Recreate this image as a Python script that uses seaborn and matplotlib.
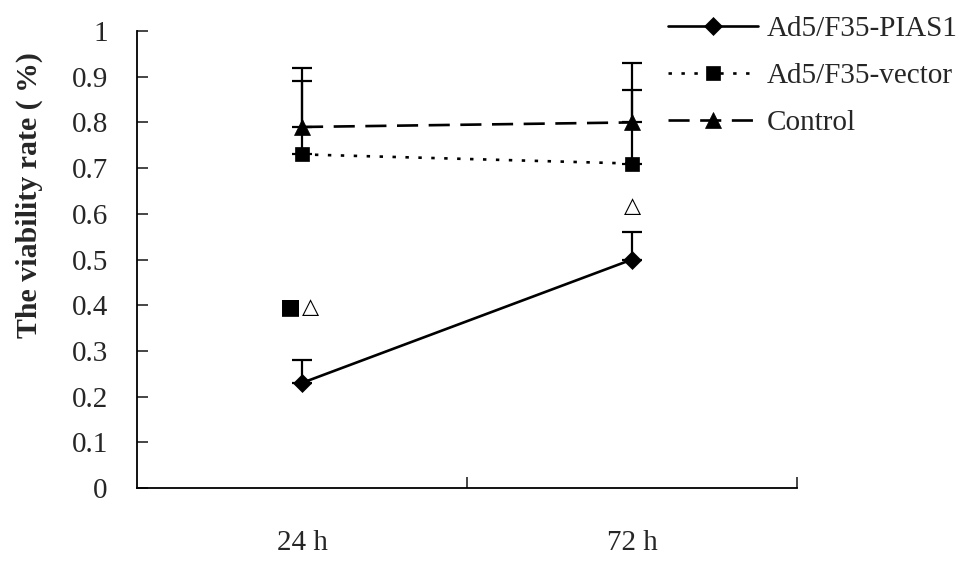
import numpy as np
import pandas as pd
import seaborn as sns
import matplotlib as mpl
from matplotlib import pyplot as plt

# values
times = ['24 h', '72 h']
groups = ['Ad5/F35-PIAS1', 'Ad5/F35-vector', 'Control']
pias1 = [0.23, 0.50]
vector = [0.73, 0.71]
control = [0.79, 0.80]
pias1_err = [0.05, 0.06]
vector_err = [0.16, 0.16]
control_err = [0.13, 0.13]
yticks = [0, 0.1, 0.2, 0.3, 0.4, 0.5, 0.6, 0.7, 0.8, 0.9, 1]
ytick_labels = ['0', '0.1', '0.2', '0.3', '0.4', '0.5', '0.6', '0.7', '0.8', '0.9', '1']
# significance marks: (x index, y, text)
sig_marks = [(-0.035, 0.396, '■'), (0.027, 0.396, '△'), (1.0, 0.617, '△')]

sns.set_style('white')
plt.rcParams['font.family'] = ['Liberation Serif', 'DejaVu Sans']

df = pd.DataFrame({
    'time': times * 3,
    'group': [g for g in groups for _ in times],
    'rate': pias1 + vector + control,
})

fig = plt.figure(figsize=(9.69, 5.66), dpi=100)
ax = fig.add_axes([0.1414, 0.1378, 0.6811, 0.8074])

ax = sns.lineplot(data=df, x='time', y='rate', hue='group', style='group',
                  hue_order=groups, style_order=groups,
                  palette=['black'] * 3,
                  markers={'Ad5/F35-PIAS1': 'D', 'Ad5/F35-vector': 's', 'Control': '^'},
                  dashes={'Ad5/F35-PIAS1': '', 'Ad5/F35-vector': (1.3, 3.6), 'Control': (8, 4)},
                  markeredgecolor='black', markeredgewidth=0.5,
                  linewidth=1.9, ax=ax)

sizes = {'D': 9, 's': 10, '^': 12}
for line in ax.lines:
    m = line.get_marker()
    if m in sizes:
        line.set_markersize(sizes[m])
    line.set_markeredgecolor('black')

for vals, errs in [(pias1, pias1_err), (vector, vector_err), (control, control_err)]:
    ax.errorbar(times, vals, yerr=[np.zeros(len(errs)), errs], fmt='none',
                ecolor='black', elinewidth=1.6, capsize=7, capthick=1.6, zorder=1)

for x, y, s in sig_marks:
    ax.text(x, y, s, ha='center', va='center', fontsize=16,
            family=['DejaVu Sans'], color='black')

ax.set_xlim(-0.5, 1.5)
ax.set_ylim(0, 1)
ax.set_yticks(yticks, ytick_labels)
ax.set_xticks([0, 1], times)
ax.set_xticks([0.5, 1.5], minor=True)
ax.tick_params(axis='x', which='major', length=0, pad=30, labelsize=21)
ax.tick_params(axis='x', which='minor', direction='in', length=8, width=1.2, bottom=True)
ax.tick_params(axis='y', direction='in', length=8, width=1.2, left=True, pad=21, labelsize=21)

ax.spines['top'].set_visible(False)
ax.spines['right'].set_visible(False)
for s in ['left', 'bottom']:
    ax.spines[s].set_linewidth(1.3)
    ax.spines[s].set_color('black')

ax.set_xlabel('')
ax.set_ylabel('The viability rate ( %)', fontsize=21.5, fontweight='bold')
ax.yaxis.set_label_coords(-0.142, 0.641)

sns.move_legend(ax, 'upper left', bbox_to_anchor=(0.677, 0.993),
                bbox_transform=fig.transFigure, frameon=False, title=None,
                fontsize=21, handlelength=3.1, handletextpad=0.28,
                labelspacing=0.7, borderaxespad=0)
for h in ax.get_legend().legend_handles:
    m = h.get_marker()
    if m in sizes:
        h.set_markersize(sizes[m])
    h.set_markeredgecolor('black')

fig.savefig('out.png', dpi=100)
